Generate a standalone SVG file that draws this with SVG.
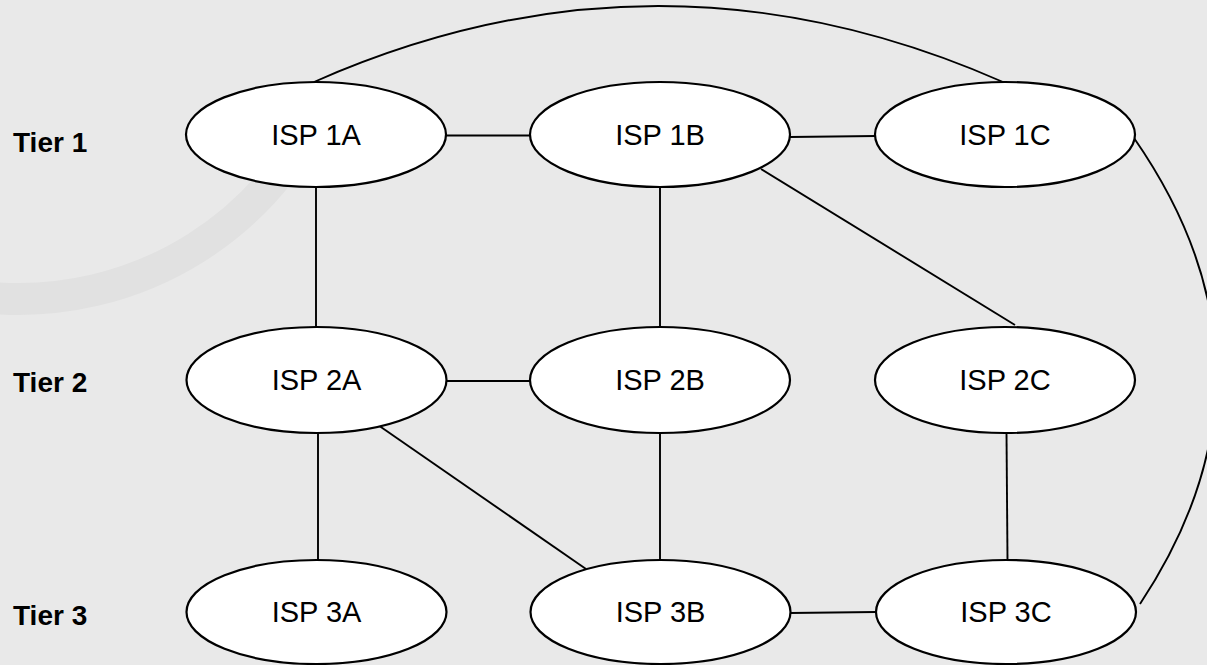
<svg xmlns="http://www.w3.org/2000/svg" width="1207" height="665" viewBox="0 0 1207 665">
  <defs>
    <linearGradient id="bandFade" gradientUnits="userSpaceOnUse" x1="0" y1="300" x2="320" y2="90">
      <stop offset="0" stop-color="#e1e1e1" stop-opacity="1"/>
      <stop offset="0.8" stop-color="#e1e1e1" stop-opacity="1"/>
      <stop offset="1" stop-color="#e1e1e1" stop-opacity="0"/>
    </linearGradient>
    <style>
      .node ellipse { fill: #ffffff; stroke: #000000; stroke-width: 2.2; }
      .node text { font-family: "Liberation Sans", Arial, sans-serif; font-size: 29px; fill: #000000; text-anchor: middle; }
      .tier { font-family: "Liberation Sans", Arial, sans-serif; font-size: 28px; font-weight: bold; fill: #000000; }
      #connectors line, #connectors path { stroke: #000000; stroke-width: 1.9; fill: none; }
    </style>
  </defs>
  <rect x="0" y="0" width="1207" height="665" fill="#e9e9e9"/>
  <path d="M -10 297.7 A 332 332 0 0 0 330 83" fill="none" stroke="url(#bandFade)" stroke-width="32"/>

  <text class="tier" x="13" y="152">Tier 1</text>
  <text class="tier" x="13" y="392">Tier 2</text>
  <text class="tier" x="13" y="625">Tier 3</text>

  <g id="connectors">
    <path d="M 314 82 Q 658 -70 1003 82"/>
    <path d="M 1134 138 Q 1295 370 1140 604"/>
    <line x1="446" y1="135.5" x2="531" y2="135.5"/>
    <line x1="790" y1="137" x2="876" y2="136"/>
    <line x1="316" y1="187" x2="316" y2="327"/>
    <line x1="660" y1="187" x2="660" y2="327"/>
    <line x1="761" y1="169" x2="1015" y2="325"/>
    <line x1="446" y1="381" x2="531" y2="381"/>
    <line x1="378" y1="425" x2="586" y2="569"/>
    <line x1="318" y1="433" x2="318" y2="560"/>
    <line x1="660" y1="433" x2="660" y2="560"/>
    <line x1="1006.5" y1="433" x2="1007.5" y2="560"/>
    <line x1="790" y1="613" x2="876" y2="612"/>
  </g>

  <g id="isp1a" class="node"><ellipse cx="316" cy="134.5" rx="130" ry="52.5"/><text x="316" y="144.5">ISP 1A</text></g>
  <g id="isp1b" class="node"><ellipse cx="660" cy="134.5" rx="130" ry="52.5"/><text x="660" y="144.5">ISP 1B</text></g>
  <g id="isp1c" class="node"><ellipse cx="1005" cy="134.5" rx="130" ry="52.5"/><text x="1005" y="144.5">ISP 1C</text></g>

  <g id="isp2a" class="node"><ellipse cx="316.5" cy="380" rx="130" ry="53"/><text x="316.5" y="390">ISP 2A</text></g>
  <g id="isp2b" class="node"><ellipse cx="660" cy="380" rx="130" ry="53"/><text x="660" y="390">ISP 2B</text></g>
  <g id="isp2c" class="node"><ellipse cx="1005" cy="380" rx="130" ry="53"/><text x="1005" y="390">ISP 2C</text></g>

  <g id="isp3a" class="node"><ellipse cx="316.5" cy="612" rx="130" ry="52"/><text x="316.5" y="622">ISP 3A</text></g>
  <g id="isp3b" class="node"><ellipse cx="660.5" cy="612" rx="130" ry="52"/><text x="660.5" y="622">ISP 3B</text></g>
  <g id="isp3c" class="node"><ellipse cx="1006" cy="612" rx="130" ry="52"/><text x="1006" y="622">ISP 3C</text></g>
</svg>
